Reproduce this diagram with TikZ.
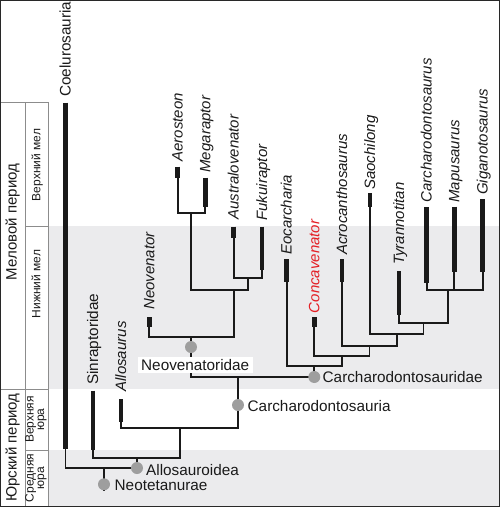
\documentclass[tikz,border=0pt]{standalone}
\usepackage{fontspec}
\setmainfont{Liberation Sans}
\definecolor{band}{RGB}{235,235,237}
\definecolor{dot}{RGB}{158,158,158}
\definecolor{gridc}{RGB}{140,140,140}
\definecolor{framec}{RGB}{40,40,40}
\definecolor{ink}{RGB}{26,26,26}
\definecolor{redtxt}{RGB}{228,30,36}
\begin{document}
\begin{tikzpicture}[x=1pt,y=-1pt,
  branch/.style={draw=ink,line width=1.8pt,line join=miter},
  bar/.style={draw=ink,line width=4.5pt},
  taxon/.style={rotate=90,anchor=base west,inner sep=0pt,font=\fontsize{15}{18}\selectfont\itshape,text=ink},
  group/.style={rotate=90,anchor=base west,inner sep=0pt,font=\fontsize{15.3}{18}\selectfont,text=ink},
  clade/.style={anchor=base west,inner sep=0pt,font=\fontsize{15.3}{18}\selectfont,text=ink},
  knot/.style={circle,fill=dot,minimum size=12pt,inner sep=0pt},
  gridline/.style={draw=gridc,line width=0.8pt},
  period/.style={rotate=90,anchor=base,inner sep=0pt,font=\fontsize{15}{18}\selectfont,text=ink},
  epoch/.style={rotate=90,anchor=base,inner sep=0pt,font=\fontsize{12}{14}\selectfont,text=ink},
  epoch2/.style={rotate=90,anchor=center,inner sep=0pt,align=center,font=\fontsize{12}{10.5}\selectfont,text=ink}]
\useasboundingbox (0,0) rectangle (500,507);
% background bands
\fill[band] (48.5,226) rectangle (500,389);
\fill[band] (48.5,450) rectangle (500,507);
% table
\draw[gridline] (0,102) -- (48,102);
\draw[gridline] (25,102) -- (25,506);
\draw[gridline] (48,102) -- (48,506);
\draw[gridline] (0,389) -- (48,389);
\draw[gridline] (25,226) -- (48,226);
\draw[gridline] (25,450) -- (48,450);
\node[period] (pmel) at (16.5,222) {Меловой период};
\node[period] (pyur) at (16.5,447.5) {Юрский период};
\node[epoch] (emel1) at (40.5,165) {Верхний мел};
\node[epoch] (emel2) at (40.5,284) {Нижний мел};
\node[epoch2] (eyur1) at (36,419.5) {Верхняя\\юра};
\node[epoch2] (eyur2) at (36,478) {Средняя\\юра};
% coordinates of bars
\foreach \n/\x/\t/\b in {coel/65.5/102.7/449, sinr/93/390.7/450, allo/121/399.3/421.7,
  neov/149.3/317.3/326.7, aero/177.7/166.7/177.7, mega/205.3/177.7/206.7,
  aust/233.7/226.7/237.7, fuku/262/226.7/270, eoca/286.7/259.3/281.7,
  conc/314.3/317.3/326.7, acro/342/259.3/281.7, saoc/370/193.3/206.7,
  tyra/399/271/315, carc/426.7/207.3/282.7, mapu/454.3/206.7/271.7, giga/482.7/199.3/271.7}
  {\coordinate (\n-t) at (\x,\t); \coordinate (\n-b) at (\x,\b);}
% junctions
\coordinate (j0) at (104,468);
\coordinate (j0e) at (104,491);
\coordinate (j1) at (137,458);
\coordinate (j2) at (180,428);
\coordinate (j3) at (238,377);
\coordinate (j4) at (191,337);
\coordinate (j5) at (314.3,366);
\coordinate (j6) at (234,290);
\coordinate (j7) at (191,213);
\coordinate (j8) at (248,278);
\coordinate (j9) at (342,356);
\coordinate (j10) at (369.5,345.7);
\coordinate (j11) at (397,334.3);
\coordinate (j12) at (423.5,323.3);
\coordinate (j13) at (448.3,290);
% branches
\draw[branch] (j0) -- (j0e);
\draw[branch] (coel-b) |- (j0);
\draw[branch] (j1) |- (j0);
\draw[branch] (sinr-b) |- (j1);
\draw[branch] (j2) |- (j1);
\draw[branch] (allo-b) |- (j2);
\draw[branch] (j3) |- (j2);
\draw[branch] (j4) |- (j3);
\draw[branch] (j5) |- (j3);
\draw[branch] (neov-b) |- (j4);
\draw[branch] (j6) |- (j4);
\draw[branch] (j7) |- (j6);
\draw[branch] (j8) |- (j6);
\draw[branch] (aero-b) |- (j7);
\draw[branch] (mega-b) |- (j7);
\draw[branch] (aust-b) |- (j8);
\draw[branch] (fuku-b) |- (j8);
\draw[branch] (eoca-b) |- (j5);
\draw[branch] (j9) |- (j5);
\draw[branch] (conc-b) |- (j9);
\draw[branch] (j10) |- (j9);
\draw[branch] (acro-b) |- (j10);
\draw[branch] (j11) |- (j10);
\draw[branch] (saoc-b) |- (j11);
\draw[branch] (j12) |- (j11);
\draw[branch] (tyra-b) |- (j12);
\draw[branch] (j13) |- (j12);
\draw[branch] (carc-b) |- (j13);
\draw[branch] (mapu-b) |- (j13);
\draw[branch] (giga-b) |- (j13);
% bars
\foreach \n in {coel,sinr,allo,neov,aero,mega,aust,fuku,eoca,conc,acro,saoc,tyra,carc,mapu,giga}
  {\draw[bar] (\n-t) -- (\n-b);}
% taxon labels
\node[group] (lcoel) at (70.5,97) {Coelurosauria};
\node[group] (lsinr) at (98,385) {Sinraptoridae};
\node[taxon] (lallo) at (126,391.7) {Allosaurus};
\node[taxon] (lneov) at (154.3,310) {Neovenator};
\node[taxon] (laero) at (182.7,161.7) {Aerosteon};
\node[taxon] (lmega) at (210.3,172.7) {Megaraptor};
\node[taxon] (laust) at (238.7,220) {Australovenator};
\node[taxon] (lfuku) at (267,220.7) {Fukuiraptor};
\node[taxon] (leoca) at (291.7,255) {Eocarcharia};
\node[taxon,text=redtxt] (lconc) at (319.3,313.3) {Concavenator};
\node[taxon] (lacro) at (347,255) {Acrocanthosaurus};
\node[taxon] (lsaoc) at (375,190) {Saochilong};
\node[taxon] (ltyra) at (404,265) {Tyrannotitan};
\node[taxon] (lcarc) at (431.7,202.7) {Carcharodontosaurus};
\node[taxon] (lmapu) at (459.3,202.7) {Mapusaurus};
\node[taxon] (lgiga) at (487.7,195) {Giganotosaurus};
% clade label box and knots
\node[clade,fill=white,inner xsep=3.5pt,inner ysep=2.3pt] (cneovid) at (137.5,370.7) {Neovenatoridae};
\node[knot] (kneot) at (104,484.3) {};
\node[knot] (kallo) at (137,468) {};
\node[knot] (kcarcia) at (238,405) {};
\node[knot] (kcarcidae) at (314.3,377) {};
\node[knot] (kneovid) at (191,347) {};
\node[clade] (cneot) at (114.5,490.7) {Neotetanurae};
\node[clade] (callo) at (146,475.7) {Allosauroidea};
\node[clade] (ccarcia) at (247.5,411.7) {Carcharodontosauria};
\node[clade] (ccarcidae) at (322.5,382.3) {Carcharodontosauridae};
% frame
\draw[draw=framec,line width=1.3pt] (0.65,0.65) rectangle (499.35,506.35);
\end{tikzpicture}
\end{document}
